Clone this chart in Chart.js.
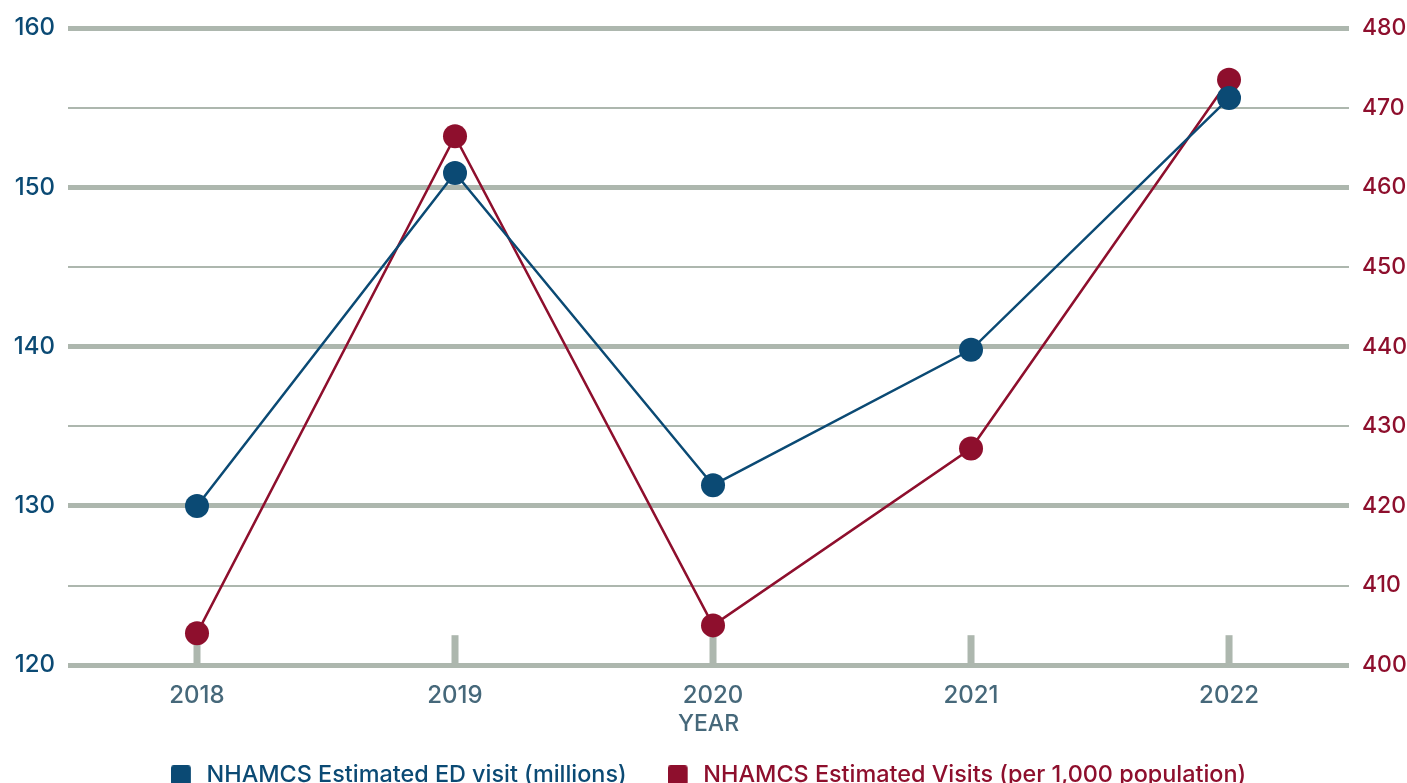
<!DOCTYPE html>
<html>
<head>
<meta charset="utf-8">
<script src="https://cdn.jsdelivr.net/npm/chart.js@4/dist/chart.umd.min.js"></script>
<style>
  html, body { margin: 0; padding: 0; background: #ffffff; overflow: hidden; }
  #wrap { position: relative; width: 1407px; height: 797px; }
</style>
</head>
<body>
<div id="wrap"><canvas id="chart"></canvas></div>
<script>
// Years on the horizontal axis
const years = ['2018', '2019', '2020', '2021', '2022'];
// ED visits in millions (left axis)
const visitsMillions = [130.0, 150.9, 131.3, 139.8, 155.6];
// Visits per 1,000 population (right axis)
const visitsPer1000 = [404.0, 466.4, 405.0, 427.2, 473.5];

const BLUE = '#0b4a74';
const RED = '#8e0f2d';
const GRID = '#adb7ae';
const XTEXT = '#46687a';
const FONT = 'Inter, "Open Sans", sans-serif';

// Year index -> value pairs for the linear x scale
const toPoints = (vals) => vals.map((v, i) => ({ x: i, y: v }));

// Legend swatch: a rounded square with a little clear space on its right
function swatch(color) {
  const c = document.createElement('canvas');
  c.width = 24; c.height = 20;
  const g = c.getContext('2d');
  g.fillStyle = color;
  g.beginPath();
  g.roundRect(0, 0, 20, 20, 3);
  g.fill();
  return c;
}

// Short vertical stubs rising from the baseline at each year
const yearStubs = {
  id: 'yearStubs',
  beforeDatasetsDraw(chart) {
    const { ctx, scales } = chart;
    const x = scales.x, y = scales.y;
    const base = y.getPixelForValue(120);
    ctx.save();
    ctx.fillStyle = GRID;
    years.forEach((_, i) => {
      const px = x.getPixelForValue(i);
      ctx.fillRect(px - 3.5, base - 30, 7, 30);
    });
    ctx.restore();
  }
};

new Chart(document.getElementById('chart'), {
  type: 'line',
  data: {
    datasets: [
      {
        label: 'NHAMCS Estimated ED visit (millions)',
        data: toPoints(visitsMillions),
        yAxisID: 'y',
        borderColor: BLUE,
        backgroundColor: BLUE,
        borderWidth: 2.5,
        pointRadius: 12,
        pointHoverRadius: 12,
        pointBorderWidth: 0,
        tension: 0
      },
      {
        label: 'NHAMCS Estimated Visits (per 1,000 population)',
        data: toPoints(visitsPer1000),
        yAxisID: 'y1',
        borderColor: RED,
        backgroundColor: RED,
        borderWidth: 2.5,
        pointRadius: 12,
        pointHoverRadius: 12,
        pointBorderWidth: 0,
        tension: 0
      }
    ]
  },
  options: {
    responsive: true,
    maintainAspectRatio: false,
    animation: false,
    layout: { padding: { top: 28, left: 10, right: 0, bottom: 0 } },
    plugins: {
      tooltip: { enabled: false },
      legend: {
        position: 'bottom',
        labels: {
          usePointStyle: true,
          pointStyleWidth: 24,
          boxHeight: 20,
          padding: 41,
          font: { family: FONT, size: 23.4, weight: '500' },
          generateLabels(chart) {
            return chart.data.datasets.map((ds, i) => ({
              text: ds.label,
              fillStyle: ds.borderColor,
              strokeStyle: ds.borderColor,
              lineWidth: 0,
              fontColor: ds.borderColor,
              pointStyle: swatch(ds.borderColor),
              datasetIndex: i,
              hidden: false
            }));
          }
        }
      }
    },
    scales: {
      x: {
        type: 'linear',
        min: -0.5,
        max: 4.465,
        grid: { display: false },
        border: { display: false },
        afterBuildTicks: (scale) => { scale.ticks = years.map((_, i) => ({ value: i })); },
        ticks: {
          color: XTEXT,
          font: { family: FONT, size: 24, weight: '500' },
          padding: 8,
          callback: (v) => years[v]
        },
        title: {
          display: true,
          text: 'YEAR',
          color: XTEXT,
          font: { family: FONT, size: 23, weight: '500' },
          padding: { top: -8, bottom: -15 }
        }
      },
      y: {
        position: 'left',
        min: 120,
        max: 160,
        border: { display: false },
        afterFit: (scale) => { scale.width = 58; },
        grid: {
          color: GRID,
          drawTicks: false,
          lineWidth: (c) => (c.tick && c.tick.value % 10 === 0 ? 5 : 2)
        },
        ticks: {
          stepSize: 5,
          color: BLUE,
          padding: 13,
          font: { family: FONT, size: 24, weight: '500' },
          callback: (v) => (v % 10 === 0 ? v : '')
        }
      },
      y1: {
        position: 'right',
        min: 400,
        max: 480,
        border: { display: false },
        afterFit: (scale) => { scale.width = 58; },
        grid: { display: false, drawOnChartArea: false, drawTicks: false },
        ticks: {
          stepSize: 10,
          color: RED,
          padding: 13,
          font: { family: FONT, size: 23, weight: '500' }
        }
      }
    }
  },
  plugins: [yearStubs]
});
</script>
</body>
</html>
